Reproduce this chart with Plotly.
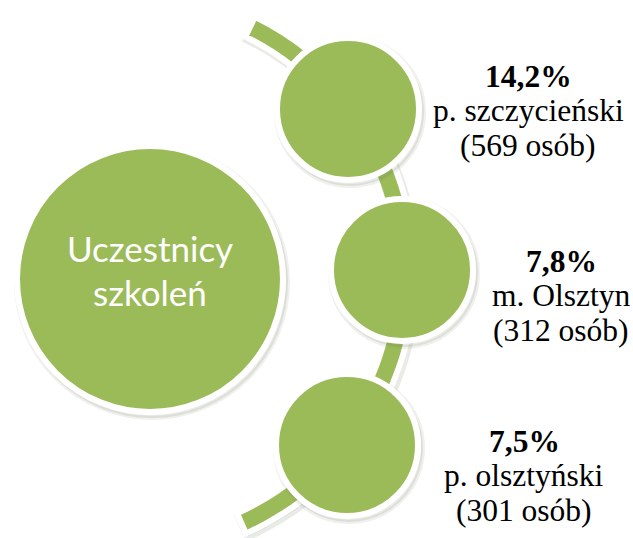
import numpy as np
import plotly.graph_objects as go

# ---- data ----
center_label = ["Uczestnicy", "szkoleń"]
percent_labels = ["14,2%", "7,8%", "7,5%"]
region_names = ["p. szczycieński", "m. Olsztyn", "p. olsztyński"]
people_counts = [569, 312, 301]

# ---- layout constants (pixel coordinates) ----
W, H = 633, 538
GREEN = "#9BBB59"
big_c = (150, 279)
big_r = 130
arc_c = (130, 273)
arc_R = 274
arc_a0, arc_a1 = -64, 66
band_half = 11
small_centers = [(348, 109), (402, 270), (347, 445)]
small_r = 68
label_x = [528, 561, 524]
label_base = [88, 273, 453]
line_gap = 34.5
SERIF = "Times New Roman, Liberation Serif, serif"
SERIF_SIZE = 31.5
SANS_SIZE = 35

fig = go.Figure()
fig.add_trace(go.Scatter(x=[0, W], y=[0, H], mode="markers",
                         marker=dict(opacity=0), hoverinfo="skip", showlegend=False))

shapes = []

# arc band (annular sector)
ang = np.radians(np.linspace(arc_a0, arc_a1, 120))
outer = [(arc_c[0] + (arc_R + band_half) * np.cos(a), arc_c[1] + (arc_R + band_half) * np.sin(a)) for a in ang]
inner = [(arc_c[0] + (arc_R - band_half) * np.cos(a), arc_c[1] + (arc_R - band_half) * np.sin(a)) for a in ang[::-1]]
pts = outer + inner
sh = "M " + " L ".join(f"{x+2:.1f},{y+3:.1f}" for x, y in pts) + " Z"
shapes.append(dict(type="path", path=sh, xref="x", yref="y", fillcolor="rgba(110,120,90,0.15)",
                   line=dict(color="rgba(110,120,90,0.15)", width=8), layer="below"))
p = "M " + " L ".join(f"{x:.1f},{y:.1f}" for x, y in pts) + " Z"
shapes.append(dict(type="path", path=p, xref="x", yref="y", fillcolor=GREEN,
                   line=dict(color="white", width=6), layer="below"))


def circle(cx, cy, r, fill, lc, lw):
    return dict(type="circle", xref="x", yref="y", x0=cx - r, x1=cx + r, y0=cy - r, y1=cy + r,
                fillcolor=fill, line=dict(color=lc, width=lw), layer="above")


shapes.append(circle(big_c[0] + 2, big_c[1] + 3, big_r + 6, "rgba(110,120,90,0.15)", "rgba(110,120,90,0.10)", 4))
shapes.append(circle(big_c[0], big_c[1], big_r + 3, GREEN, "white", 6))
for cx, cy in small_centers:
    shapes.append(circle(cx + 2, cy + 3, small_r + 6, "rgba(110,120,90,0.15)", "rgba(110,120,90,0.10)", 4))
    shapes.append(circle(cx, cy, small_r + 3, GREEN, "white", 6))

ann = []
center_base = [263, 307]
for i, t in enumerate(center_label):
    ann.append(dict(x=big_c[0], y=center_base[i] - 0.42 * SANS_SIZE, text=t, showarrow=False,
                    xref="x", yref="y", xanchor="center", yanchor="middle",
                    font=dict(family="Lato", size=SANS_SIZE, color="white")))

for k in range(3):
    lines = [f"<b>{percent_labels[k]}</b>", region_names[k], f"({people_counts[k]} osób)"]
    for j, t in enumerate(lines):
        ann.append(dict(x=label_x[k], y=label_base[k] + j * line_gap - 0.37 * SERIF_SIZE, text=t,
                        showarrow=False, xref="x", yref="y", xanchor="center", yanchor="middle",
                        font=dict(family=SERIF, size=SERIF_SIZE, color="black")))

fig.update_layout(width=W, height=H, margin=dict(l=0, r=0, t=0, b=0),
                  paper_bgcolor="white", plot_bgcolor="white",
                  xaxis=dict(range=[0, W], visible=False, fixedrange=True),
                  yaxis=dict(range=[H, 0], visible=False, fixedrange=True),
                  shapes=shapes, annotations=ann, showlegend=False)
fig.write_html("out.html", config={"displayModeBar": False},
               post_script="document.body.style.margin='0';document.body.style.overflow='hidden';")
